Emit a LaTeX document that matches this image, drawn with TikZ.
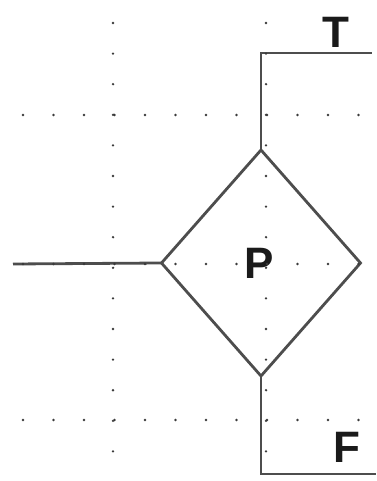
\documentclass[tikz,border=0pt]{standalone}
\usepackage{fontspec}
\setmainfont{Liberation Sans}
\usepackage{tikz}
\usetikzlibrary{shapes.geometric}
\definecolor{Wire}{HTML}{4D4D4D}
\definecolor{Dot}{HTML}{3A3A3A}
\definecolor{Ink}{HTML}{1A1A1A}

\begin{document}
\begin{tikzpicture}[x=1pt,y=-1pt,
  wire/.style={Wire,line width=2.8pt},
  lbl/.style={Ink,font=\fontsize{44}{44}\selectfont\bfseries,inner sep=0pt}]
  \useasboundingbox[fill=white] (0,0) rectangle (376,481);
  \node[wire,draw,diamond,inner sep=0pt,outer sep=0pt,minimum width=199pt,minimum height=226pt] (test) at (261,263) {};
  \node[lbl] (plab) at (259,263) {P};
  \coordinate (inL) at (13,264);
  \coordinate (tEnd) at (372,53);
  \coordinate (fEnd) at (376,474);
  \draw[wire] (inL) -- (test.west);
  \draw[wire] (test.north) |- (tEnd);
  \draw[wire] (test.south) |- (fEnd);
  \node[lbl,anchor=base] (tlab) at (336,48) {T};
  \node[lbl,anchor=base] (flab) at (347,462) {F};
  % dotted guide lines
  \foreach \gx in {113,266}
    \foreach \k in {0,...,14}
      \fill[Dot] (\gx,23+30.6*\k) circle (1.3pt);
  \foreach \gy in {115,264,420}
    \foreach \k in {0,...,11}
      \fill[Dot] (23+30.5*\k,\gy) circle (1.3pt);
\end{tikzpicture}
\end{document}
